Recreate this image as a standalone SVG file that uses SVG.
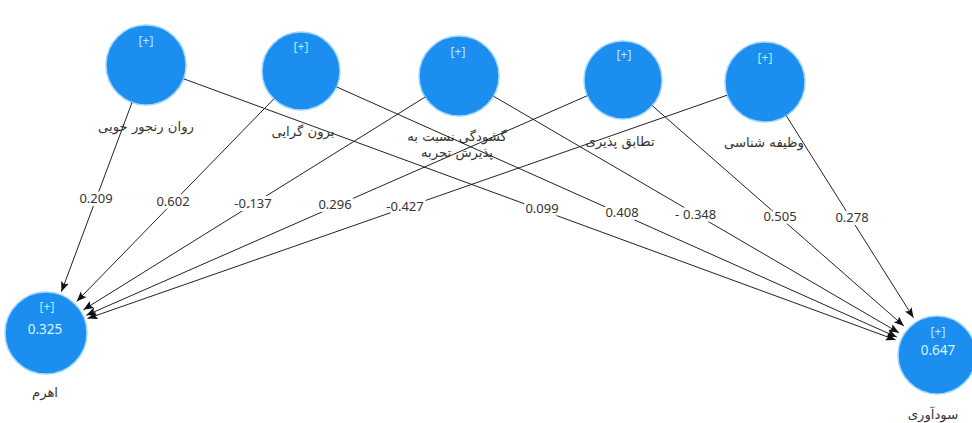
<svg xmlns="http://www.w3.org/2000/svg" width="972" height="423" viewBox="0 0 972 423">
<style>
.n{fill:#1c8ef0;stroke:#9dd6ff;stroke-width:1.5}
.pl{font-family:"Noto Sans","Open Sans",sans-serif;font-size:12px;fill:#b8ecff;text-anchor:middle}
.r2{font-family:"Noto Sans","Open Sans",sans-serif;font-size:13.5px;fill:#d8f4ff;text-anchor:middle}
.lb{font-family:"DejaVu Sans","Noto Sans",sans-serif;font-size:13.2px;fill:#333;text-anchor:middle}
.e{stroke:#222;stroke-width:1;fill:none;marker-end:url(#ah)}
.el{font-family:"Noto Sans","Open Sans",sans-serif;font-size:13px;fill:#333;text-anchor:middle;stroke:#fff;stroke-width:6px;paint-order:stroke;stroke-linejoin:round}
</style>
<defs>
<marker id="ah" markerUnits="userSpaceOnUse" markerWidth="11" markerHeight="9" refX="10" refY="4.5" orient="auto">
<path d="M0,0.5 L10,4.5 L0,8.5 L2,4.5 Z" fill="#111"/>
</marker>
</defs>
<rect width="972" height="423" fill="#fff"/>
<g id="node-A"><circle class="n" cx="146" cy="65" r="40"/><text class="pl" x="146" y="45">[+]</text><text class="lb" x="146" y="131" direction="rtl">روان رنجور خویی</text></g>
<g id="node-B"><circle class="n" cx="301" cy="71" r="39"/><text class="pl" x="301" y="51">[+]</text><text class="lb" x="303" y="136" direction="rtl">برون گرایی</text></g>
<g id="node-C"><circle class="n" cx="459" cy="76" r="40"/><text class="pl" x="458" y="56">[+]</text><text class="lb" x="457" y="141" direction="rtl">گشودگی نسبت به</text><text class="lb" x="457" y="157" direction="rtl">پذیرش تجربه</text></g>
<g id="node-D"><circle class="n" cx="623" cy="80" r="39"/><text class="pl" x="624" y="59">[+]</text><text class="lb" x="620" y="146" direction="rtl">تطابق پذیری</text></g>
<g id="node-E"><circle class="n" cx="765" cy="82" r="40"/><text class="pl" x="765" y="62">[+]</text><text class="lb" x="764" y="147" direction="rtl">وظیفه شناسی</text></g>
<g id="node-L"><circle class="n" cx="46" cy="333" r="41"/><text class="pl" x="47" y="311">[+]</text><text class="r2" x="45" y="334">0.325</text><text class="lb" x="45" y="397" direction="rtl">اهرم</text></g>
<g id="node-R"><circle class="n" cx="937" cy="355" r="39"/><text class="pl" x="938" y="336">[+]</text><text class="r2" x="938" y="355">0.647</text><text class="lb" x="933" y="419" direction="rtl">سودآوری</text></g>
<g id="connectors">
<line class="e" x1="132" y1="102.5" x2="61.4" y2="291.8"/>
<line class="e" x1="183.6" y1="78.8" x2="895.7" y2="339.9"/>
<line class="e" x1="273.8" y1="98.9" x2="76.7" y2="301.5"/>
<line class="e" x1="336.6" y1="86.9" x2="896.8" y2="337.1"/>
<line class="e" x1="425" y1="97.1" x2="83.4" y2="309.8"/>
<line class="e" x1="493.5" y1="96.2" x2="899" y2="332.8"/>
<line class="e" x1="587.3" y1="95.7" x2="86.3" y2="315.3"/>
<line class="e" x1="652.3" y1="105.7" x2="903.9" y2="326"/>
<line class="e" x1="727.2" y1="95.2" x2="87.5" y2="318.5"/>
<line class="e" x1="786.3" y1="115.8" x2="913.5" y2="317.8"/>
<text class="el" x="96" y="203">0.209</text>
<text class="el" x="173" y="206">0.602</text>
<text class="el" x="253" y="208">-0.137</text>
<text class="el" x="335" y="209">0.296</text>
<text class="el" x="405" y="211">-0.427</text>
<text class="el" x="542" y="213">0.099</text>
<text class="el" x="622" y="217">0.408</text>
<text class="el" x="675" y="219" style="text-anchor:start">-<tspan x="683">0.348</tspan></text>
<text class="el" x="780" y="221">0.505</text>
<text class="el" x="852" y="222">0.278</text>
</g>
</svg>
